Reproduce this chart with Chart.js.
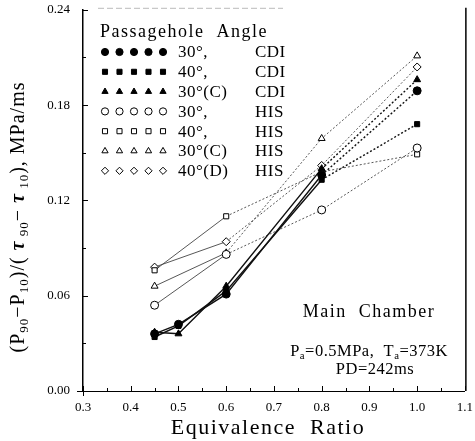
<!DOCTYPE html>
<html>
<head>
<meta charset="utf-8">
<script src="https://cdn.jsdelivr.net/npm/chart.js@4.4.1/dist/chart.umd.min.js"></script>
<style>
  html, body { margin: 0; padding: 0; background: #fff; }
  #wrap { width: 475px; height: 441px; }
</style>
</head>
<body>
<div id="wrap"><canvas id="grafico" width="475" height="441"></canvas></div>
<script>
// datos
const xCDI = [0.45, 0.5, 0.6, 0.8, 1.0];
const xHIS = [0.45, 0.6, 0.8, 1.0];

const cdi30 = [0.036, 0.042, 0.061, 0.136, 0.189];
const cdi40 = [0.034, 0.041, 0.063, 0.133, 0.168];
const cdi30C = [0.037, 0.036, 0.066, 0.140, 0.196];
const his30 = [0.054, 0.086, 0.114, 0.153];
const his40 = [0.076, 0.110, 0.138, 0.149];
const his30C = [0.066, 0.087, 0.159, 0.211];
const his40D = [0.078, 0.094, 0.142, 0.204];

const xTicks = [0.3, 0.4, 0.5, 0.6, 0.7, 0.8, 0.9, 1.0, 1.1];
const yTicks = [0.00, 0.06, 0.12, 0.18, 0.24];

const leyenda = [
  { txt: '30°,', tipo: 'CDI', estilo: 'circle', relleno: true },
  { txt: '40°,', tipo: 'CDI', estilo: 'rect', relleno: true },
  { txt: '30°(C)', tipo: 'CDI', estilo: 'triangle', relleno: true },
  { txt: '30°,', tipo: 'HIS', estilo: 'circle', relleno: false },
  { txt: '40°,', tipo: 'HIS', estilo: 'rect', relleno: false },
  { txt: '30°(C)', tipo: 'HIS', estilo: 'triangle', relleno: false },
  { txt: '40°(D)', tipo: 'HIS', estilo: 'rectRot', relleno: false }
];

const SERIF = '"Liberation Serif", "DejaVu Serif", serif';

function puntos(xs, ys) {
  return xs.map((x, i) => ({ x: x, y: ys[i] }));
}

function serie(xs, ys, estilo, relleno, esCDI) {
  const corte = esCDI ? 3 : 1;
  return {
    data: puntos(xs, ys),
    pointStyle: estilo,
    pointRadius: estilo === 'rect' ? 3.6 : 4,
    pointBackgroundColor: relleno ? '#000' : '#fff',
    pointBorderColor: '#000',
    pointBorderWidth: 1,
    borderColor: esCDI ? '#111' : '#444',
    borderWidth: esCDI ? 1.4 : 0.9,
    segment: {
      borderDash: ctx => ctx.p0DataIndex >= corte ? [2, 2] : undefined
    },
    showLine: true,
    fill: false,
    tension: 0
  };
}

function marca(ctx, estilo, relleno, x, y, r) {
  ctx.save();
  ctx.fillStyle = relleno ? '#000' : '#fff';
  ctx.strokeStyle = '#000';
  ctx.lineWidth = 1;
  Chart.helpers.drawPoint(ctx, { pointStyle: estilo, radius: r, rotation: 0, borderWidth: 1 }, x, y);
  ctx.restore();
}

// texto en trozos, con subindices (tipo 1) y letra cursiva (tipo 2)
function textoPartes(ctx, partes, cx, cy, tam) {
  const fuente = t => t === 1 ? (tam * 0.65) + 'px ' + SERIF
    : t === 2 ? 'italic bold ' + tam + 'px ' + SERIF : tam + 'px ' + SERIF;
  let total = 0;
  partes.forEach(p => { ctx.font = fuente(p[1]); total += ctx.measureText(p[0]).width; });
  let x = cx - total / 2;
  ctx.textAlign = 'left';
  partes.forEach(p => {
    ctx.font = fuente(p[1]);
    ctx.fillText(p[0], x, p[1] === 1 ? cy + tam * 0.28 : cy);
    x += ctx.measureText(p[0]).width;
  });
}

const decoracion = {
  id: 'decoracion',
  afterDraw(chart) {
    const ctx = chart.ctx;
    const a = chart.chartArea;
    const sx = chart.scales.x;
    const sy = chart.scales.y;
    ctx.save();
    ctx.strokeStyle = '#000';
    ctx.lineWidth = 1;
    ctx.beginPath();
    // marcas del eje x hacia adentro
    for (let v = 0.3; v <= 1.1001; v += 0.05) {
      const px = Math.round(sx.getPixelForValue(v)) + 0.5;
      const mayor = Math.abs(v * 10 - Math.round(v * 10)) < 0.01;
      ctx.moveTo(px, a.bottom);
      ctx.lineTo(px, a.bottom - (mayor ? 5 : 3));
    }
    // marcas del eje y
    for (let v = 0; v <= 0.2401; v += 0.03) {
      const py = Math.round(sy.getPixelForValue(v)) + 0.5;
      const mayor = Math.abs(v / 0.06 - Math.round(v / 0.06)) < 0.01;
      ctx.moveTo(a.left, py);
      ctx.lineTo(a.left + (mayor ? 5 : 3), py);
    }
    // cruz en el origen
    ctx.moveTo(a.left - 6, Math.round(a.bottom) + 0.5);
    ctx.lineTo(a.left, Math.round(a.bottom) + 0.5);
    ctx.moveTo(Math.round(a.left) + 0.5, a.bottom);
    ctx.lineTo(Math.round(a.left) + 0.5, a.bottom + 5);
    ctx.stroke();
    // borde derecho
    ctx.beginPath();
    ctx.lineWidth = 1.5;
    ctx.moveTo(a.right + 1, a.top - 2);
    ctx.lineTo(a.right + 1, a.bottom);
    ctx.stroke();
    // borde superior tenue
    ctx.beginPath();
    ctx.strokeStyle = '#bbb';
    ctx.lineWidth = 1;
    ctx.setLineDash([6, 3]);
    ctx.moveTo(a.left + 15, a.top - 1.5);
    ctx.lineTo(a.left + 200, a.top - 1.5);
    ctx.stroke();
    ctx.setLineDash([]);

    ctx.fillStyle = '#000';
    ctx.textBaseline = 'middle';

    // titulos de los ejes
    ctx.letterSpacing = '1.5px';
    ctx.textAlign = 'center';
    ctx.font = '22px ' + SERIF;
    ctx.fillText('Equivalence  Ratio', 268, 428);
    ctx.save();
    ctx.translate(19, 217);
    ctx.rotate(-Math.PI / 2);
    ctx.letterSpacing = '1px';
    textoPartes(ctx, [['(P', 0], ['90', 1], ['−P', 0], ['10', 1], [')/( ', 0], ['τ', 2], [' 90', 1],
      ['− ', 0], ['τ', 2], [' 10', 1], ['), MPa/ms', 0]], 0, 0, 20);
    ctx.restore();

    // leyenda
    ctx.textAlign = 'left';
    ctx.letterSpacing = '1.5px';
    ctx.font = '18px ' + SERIF;
    ctx.fillText('Passagehole  Angle', 100, 32);
    ctx.letterSpacing = '0.5px';
    ctx.font = '17px ' + SERIF;
    leyenda.forEach((l, i) => {
      const y = 52 + i * 19.8;
      for (let k = 0; k < 5; k++) {
        marca(ctx, l.estilo, l.relleno, 105 + k * 14.5, y, 3.6);
      }
      ctx.fillStyle = '#000';
      ctx.textAlign = 'left';
      ctx.fillText(l.txt, 178, y + 1);
      ctx.fillText(l.tipo, 255, y + 1);
    });

    // anotaciones
    ctx.textAlign = 'center';
    ctx.letterSpacing = '1.5px';
    ctx.font = '18px ' + SERIF;
    ctx.fillText('Main  Chamber', 369, 312);
    ctx.letterSpacing = '0.5px';
    textoPartes(ctx, [['P', 0], ['a', 1], ['=0.5MPa,  T', 0], ['a', 1], ['=373K', 0]], 369, 352, 16.5);
    ctx.textAlign = 'center';
    ctx.font = '16.5px ' + SERIF;
    ctx.fillText('PD=242ms', 375, 370);
    ctx.restore();
  }
};

const sinRejilla = tl => ({
  display: true,
  drawOnChartArea: false,
  drawTicks: true,
  tickLength: tl,
  color: 'rgba(0,0,0,0)'
});

const ctx = document.getElementById('grafico').getContext('2d');
new Chart(ctx, {
  type: 'scatter',
  data: {
    datasets: [
      serie(xCDI, cdi30, 'circle', true, true),
      serie(xCDI, cdi40, 'rect', true, true),
      serie(xCDI, cdi30C, 'triangle', true, true),
      serie(xHIS, his30, 'circle', false, false),
      serie(xHIS, his40, 'rect', false, false),
      serie(xHIS, his30C, 'triangle', false, false),
      serie(xHIS, his40D, 'rectRot', false, false)
    ]
  },
  options: {
    responsive: false,
    animation: false,
    layout: { autoPadding: false, padding: { top: 9, right: 6, left: 0, bottom: 0 } },
    plugins: { legend: { display: false }, tooltip: { enabled: false } },
    scales: {
      x: {
        type: 'linear',
        min: 0.3,
        max: 1.1,
        afterBuildTicks: s => { s.ticks = xTicks.map(v => ({ value: v })); },
        afterFit: s => { s.height = 50; },
        grid: sinRejilla(7),
        border: { display: true, color: '#000', width: 1 },
        ticks: {
          color: '#000',
          padding: 2,
          font: { family: SERIF, size: 13 },
          callback: v => v.toFixed(1)
        },
        title: { display: false }
      },
      y: {
        type: 'linear',
        min: 0,
        max: 0.24,
        afterBuildTicks: s => { s.ticks = yTicks.map(v => ({ value: v })); },
        afterFit: s => { s.width = 83; },
        grid: sinRejilla(11),
        border: { display: true, color: '#000', width: 1.5 },
        ticks: {
          color: '#000',
          padding: 2,
          font: { family: SERIF, size: 13 },
          callback: v => v.toFixed(2)
        },
        title: { display: false }
      }
    }
  },
  plugins: [decoracion]
});
</script>
</body>
</html>
